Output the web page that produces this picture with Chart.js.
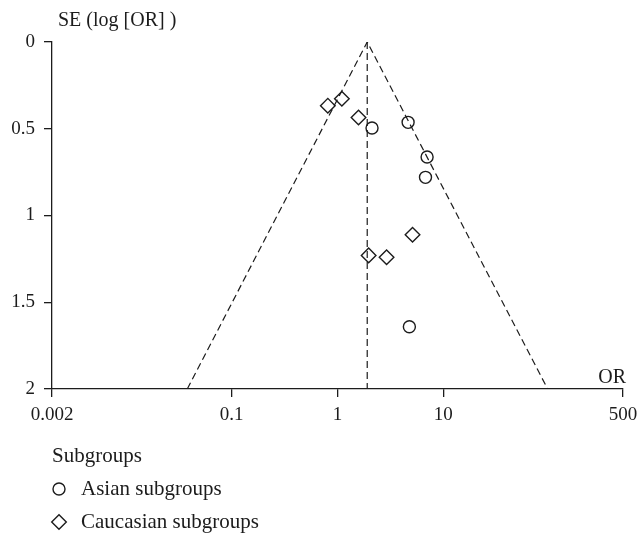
<!DOCTYPE html>
<html>
<head>
<meta charset="utf-8">
<script src="https://cdn.jsdelivr.net/npm/chart.js@4/dist/chart.umd.min.js"></script>
<style>
  html, body { margin: 0; padding: 0; background: #fff; }
  #wrap { width: 639px; height: 535px; }
</style>
</head>
<body>
<div id="wrap"><canvas id="funnel" width="639" height="535"></canvas></div>
<script>
// ===============================
// DATA
// ===============================
const asianOR = [2.12, 4.65, 7.03, 6.79, 4.78];
const asianSE = [0.496, 0.463, 0.663, 0.780, 1.641];

const caucOR = [0.81, 1.10, 1.58, 5.12, 1.97, 2.91];
const caucSE = [0.367, 0.327, 0.435, 1.111, 1.230, 1.241];

const pooledOR = 1.91;
const funnelOR = [0.038, 1.91, 97];
const funnelSE = [2, 0, 2];

const xTicks = [0.002, 0.1, 1, 10, 500];
const xTickLabels = ["0.002", "0.1", "1", "10", "500"];
const yTicks = [0, 0.5, 1, 1.5, 2];
const yTickLabels = ["0", "0.5", "1", "1.5", "2"];

const seriesNames = ["Asian subgroups", "Caucasian subgroups"];
const legendTitle = "Subgroups";
const yTitle = "SE (log [OR] )";
const xTitle = "OR";

const INK = "#1c1c1c";
const FONT = '"Liberation Serif", "DejaVu Serif", serif';

Chart.defaults.font.family = FONT;
Chart.defaults.font.size = 19;
Chart.defaults.color = INK;

const toPoints = (xs, ys) => xs.map((x, i) => ({ x: x, y: ys[i] }));

// ===============================
// TEXT + LEGEND PLUGIN
// ===============================
const extras = {
  id: "extras",
  afterDraw(chart) {
    const ctx = chart.ctx;
    ctx.save();
    ctx.fillStyle = INK;
    ctx.textBaseline = "alphabetic";

    ctx.font = "20px " + FONT;
    ctx.textAlign = "left";
    ctx.fillText(yTitle, 58, 26);

    ctx.textAlign = "right";
    ctx.fillText(xTitle, 626, 383);

    ctx.font = "21px " + FONT;
    ctx.textAlign = "left";
    ctx.fillText(legendTitle, 52, 462);

    const rows = [
      { y: 489, text: seriesNames[0], ds: chart.data.datasets[0] },
      { y: 522, text: seriesNames[1], ds: chart.data.datasets[1] }
    ];
    rows.forEach(r => {
      ctx.fillStyle = INK;
      ctx.fillText(r.text, 81, r.y + 6);
      ctx.strokeStyle = INK;
      ctx.fillStyle = "rgba(0,0,0,0)";
      ctx.lineWidth = 1.4;
      Chart.helpers.drawPoint(ctx, {
        pointStyle: r.ds.pointStyle,
        radius: r.ds.pointRadius,
        rotation: 0,
        borderWidth: 1.4
      }, 59, r.y);
    });
    ctx.restore();
  }
};

// ===============================
// FUNNEL CHART
// ===============================
const ctx = document.getElementById("funnel").getContext("2d");

new Chart(ctx, {
  type: "scatter",
  data: {
    datasets: [
      {
        label: seriesNames[0],
        data: toPoints(asianOR, asianSE),
        pointStyle: "circle",
        pointRadius: 6,
        borderColor: INK,
        backgroundColor: "rgba(0,0,0,0)",
        borderWidth: 1.4
      },
      {
        label: seriesNames[1],
        data: toPoints(caucOR, caucSE),
        pointStyle: "rectRot",
        pointRadius: 7.3,
        borderColor: INK,
        backgroundColor: "rgba(0,0,0,0)",
        borderWidth: 1.4
      },
      {
        label: "funnel",
        data: toPoints(funnelOR, funnelSE),
        showLine: true,
        pointRadius: 0,
        borderColor: INK,
        borderWidth: 1.2,
        borderDash: [7, 4]
      },
      {
        label: "pooled",
        data: [{ x: pooledOR, y: 0 }, { x: pooledOR, y: 2 }],
        showLine: true,
        pointRadius: 0,
        borderColor: INK,
        borderWidth: 1.2,
        borderDash: [7, 4]
      }
    ]
  },
  options: {
    responsive: false,
    animation: false,
    layout: { padding: { left: 0, top: 42, right: 16, bottom: 106 } },
    plugins: {
      legend: { display: false },
      tooltip: { enabled: false }
    },
    scales: {
      x: {
        type: "logarithmic",
        min: 0.002,
        max: 500,
        afterBuildTicks: s => { s.ticks = xTicks.map(v => ({ value: v })); },
        afterFit: s => { s.height = 40; s.paddingLeft = 0; s.paddingRight = 0; },
        grid: { display: true, drawOnChartArea: false, drawTicks: true, tickLength: 8, color: INK, lineWidth: 1.3 },
        border: { display: true, color: INK, width: 1.3 },
        ticks: {
          autoSkip: false,
          maxRotation: 0,
          padding: 7,
          color: INK,
          callback: (v, i) => xTickLabels[i]
        }
      },
      y: {
        min: 0,
        max: 2,
        reverse: true,
        afterBuildTicks: s => { s.ticks = yTicks.map(v => ({ value: v })); },
        afterFit: s => { s.width = 52; s.paddingTop = 0; s.paddingBottom = 0; },
        grid: { display: true, drawOnChartArea: false, drawTicks: true, tickLength: 8, color: INK, lineWidth: 1.3 },
        border: { display: true, color: INK, width: 1.3 },
        ticks: {
          autoSkip: false,
          padding: 9,
          color: INK,
          callback: (v, i) => yTickLabels[i]
        }
      }
    }
  },
  plugins: [extras]
});
</script>
</body>
</html>
